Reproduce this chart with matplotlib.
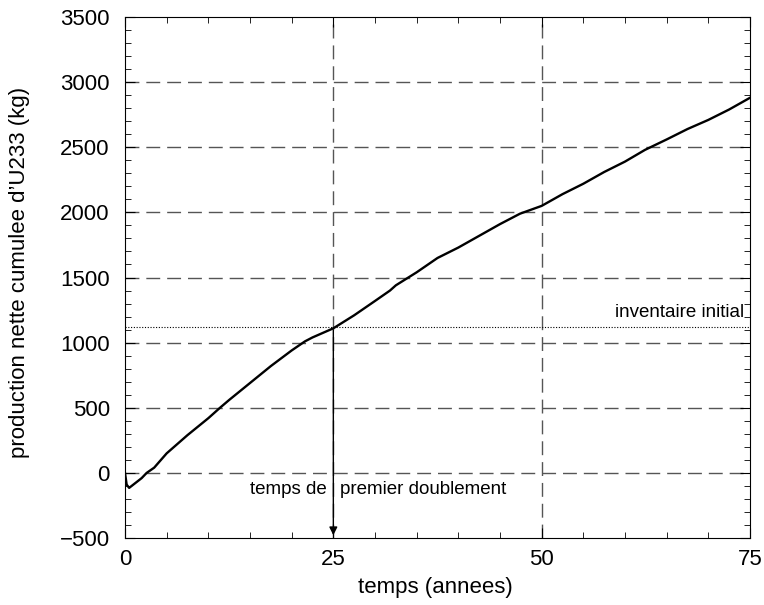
import numpy as np
import matplotlib.pyplot as plt
from matplotlib.ticker import MultipleLocator

plt.rcParams['font.family'] = ['Liberation Sans', 'DejaVu Sans']

# cumulative net U233 production (kg) vs time (years)
t = [0, 0.2, 0.5, 1, 2, 2.6, 3.5, 5, 7.5, 10, 11.4, 12.5, 15, 17.5, 20,
     21.6, 22.5, 25, 27.5, 30, 31.8, 32.5, 35, 37.5, 40, 42.5, 45, 47.4,
     50, 52.5, 55, 57.5, 60, 62.4, 65, 67.5, 70, 72.5, 75]
prod = [0, -90, -115, -90, -40, 0, 40, 150, 290, 420, 500, 560, 690, 820, 940,
        1010, 1040, 1110, 1210, 1320, 1400, 1440, 1540, 1650, 1730, 1820, 1910, 1990,
        2050, 2140, 2220, 2310, 2390, 2480, 2560, 2640, 2710, 2790, 2880]

inventaire = 1118
t_doublement = 25

fig = plt.figure(figsize=(7.64, 6.05), dpi=100)
ax = fig.add_axes([0.1636, 0.1107, 0.8181, 0.8612])

# dashed grid at major ticks
for x in [25, 50]:
    ax.axvline(x, color='#555555', lw=1.0, dashes=(10, 5), zorder=1)
for y in range(0, 3001, 500):
    ax.axhline(y, color='#555555', lw=1.0, dashes=(10, 5), zorder=1)

ax.axhline(inventaire, color='black', lw=0.8, ls=(0, (1, 1.5)), zorder=2)
ax.text(74.3, inventaire + 45, 'inventaire initial', ha='right', va='bottom', fontsize=13.5)

ax.plot(t, prod, color='black', lw=1.7, zorder=3)

# arrow for doubling time
ax.annotate('', xy=(t_doublement, -500), xytext=(t_doublement, inventaire),
            arrowprops=dict(arrowstyle='-|>', color='black', lw=1.0, mutation_scale=12),
            zorder=4)
ax.text(t_doublement - 0.8, -130, 'temps de', ha='right', va='center', fontsize=13.5)
ax.text(t_doublement + 0.8, -130, 'premier doublement', ha='left', va='center', fontsize=13.5)

ax.set_xlim(0, 75)
ax.set_ylim(-500, 3500)
ax.xaxis.set_major_locator(MultipleLocator(25))
ax.xaxis.set_minor_locator(MultipleLocator(5))
ax.yaxis.set_major_locator(MultipleLocator(500))
ax.yaxis.set_minor_locator(MultipleLocator(100))
ax.tick_params(which='both', direction='in', top=True, right=True, labelsize=16)
ax.tick_params(which='major', length=7)
ax.tick_params(which='minor', length=4)
ax.tick_params(axis='x', pad=8)
ax.tick_params(axis='y', pad=11)
ax.set_yticks(range(-500, 3501, 500))
ax.set_yticklabels(['\u2212500'] + [str(v) for v in range(0, 3501, 500)])

ax.set_xlabel('temps (annees)', fontsize=16)
ax.set_ylabel('production nette cumulee d\u2019U233 (kg)', fontsize=16)
ax.xaxis.set_label_coords(0.496, -0.075)
ax.yaxis.set_label_coords(-0.152, 0.51)

plt.savefig('out.png', dpi=100)
